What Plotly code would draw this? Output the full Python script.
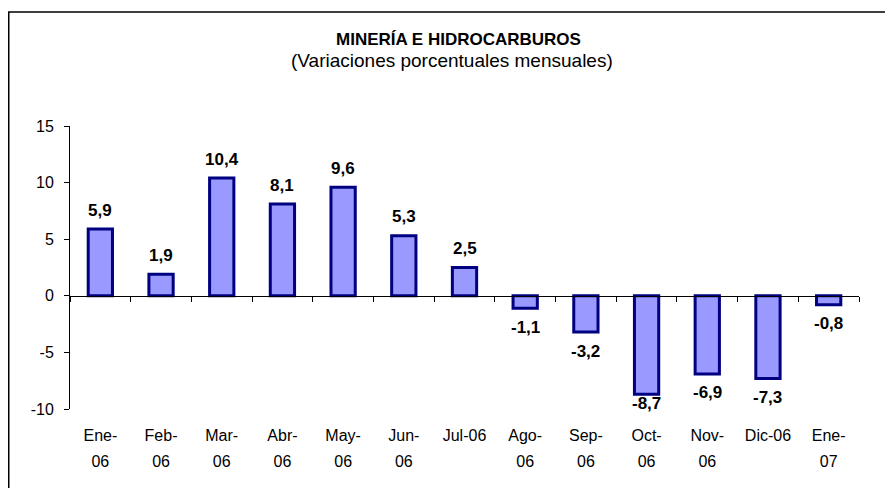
import plotly.graph_objects as go

categories = ["Ene-06", "Feb-06", "Mar-06", "Abr-06", "May-06", "Jun-06", "Jul-06",
              "Ago-06", "Sep-06", "Oct-06", "Nov-06", "Dic-06", "Ene-07"]
values = [5.9, 1.9, 10.4, 8.1, 9.6, 5.3, 2.5, -1.1, -3.2, -8.7, -6.9, -7.3, -0.8]
tick_line1 = ["Ene-", "Feb-", "Mar-", "Abr-", "May-", "Jun-", "Jul-06",
              "Ago-", "Sep-", "Oct-", "Nov-", "Dic-06", "Ene-"]
tick_line2 = ["06", "06", "06", "06", "06", "06", "",
              "06", "06", "06", "06", "", "07"]
y_ticks = [-10, -5, 0, 5, 10, 15]

title = "MINERÍA E HIDROCARBUROS"
subtitle = "(Variaciones porcentuales mensuales)"

FONT = "Liberation Sans, Arial, sans-serif"
# page has an 8px body margin, so the figure origin sits at (8, 8)
W, H = 885, 480
ML, MR, MT, MB = 62, 34, 118, 79
pw, ph = W - ML - MR, H - MT - MB
ymin, ymax = -10, 15
zero_pos = (0 - ymin) / (ymax - ymin)
unit_px = ph / (ymax - ymin)
label_off = 19 / unit_px


def px_to_paper_x(px):
    return (px - ML) / pw


def px_to_paper_y(py):
    return 1 - (py - MT) / ph


fig = go.Figure()
fig.add_trace(go.Bar(
    x=categories, y=values, width=0.4,
    marker=dict(color="#9999FF", line=dict(color="#000080", width=3)),
    showlegend=False, hoverinfo="x+y",
))
# invisible traces that carry the two label axes
for ax in ("x2", "x3"):
    fig.add_trace(go.Scatter(x=categories, y=[None] * len(categories), xaxis=ax,
                             mode="lines", showlegend=False, hoverinfo="skip"))

for c, v in zip(categories, values):
    txt = f"{v:.1f}".replace(".", ",")
    if v >= 0:
        yy = v + label_off
    else:
        yy = max(v - label_off, ymin + 0.45)
    fig.add_annotation(x=c, y=yy, text=f"<b>{txt}</b>", showarrow=False,
                       xref="x", yref="y", yanchor="middle",
                       font=dict(family=FONT, size=17, color="black"))

xr = [-0.5, len(categories) - 0.5]
label_axis = dict(type="category", categoryarray=categories, overlaying="x",
                  range=xr, anchor="y", side="bottom", showline=False, ticks="",
                  tickmode="array", tickvals=categories, showgrid=False, zeroline=False,
                  tickfont=dict(family=FONT, size=16, color="black"))

fig.update_layout(
    width=W, height=H,
    margin=dict(l=ML, r=MR, t=MT, b=MB, autoexpand=False),
    paper_bgcolor="white", plot_bgcolor="white",
    font=dict(family=FONT, size=16, color="black"),
    xaxis=dict(type="category", categoryarray=categories, range=xr,
               anchor="free", position=zero_pos,
               showline=True, linecolor="black", linewidth=1,
               ticks="outside", tickson="boundaries", ticklen=5, tickcolor="black",
               showticklabels=False, showgrid=False, zeroline=False),
    xaxis2=dict(label_axis, ticktext=tick_line1, ticklabelstandoff=15),
    xaxis3=dict(label_axis, ticktext=tick_line2, ticklabelstandoff=41),
    yaxis=dict(range=[ymin, ymax], tickmode="array", tickvals=y_ticks,
               ticktext=[str(t) for t in y_ticks],
               showline=True, linecolor="black", linewidth=1,
               ticks="outside", ticklen=5, tickcolor="black",
               ticklabelstandoff=7,
               showgrid=False, zeroline=False,
               tickfont=dict(family=FONT, size=16, color="black")),
)

fig.add_annotation(text=f"<b>{title}</b>", x=px_to_paper_x(450), y=px_to_paper_y(31),
                   xref="paper", yref="paper", xanchor="center", yanchor="middle",
                   showarrow=False, font=dict(family=FONT, size=17, color="black"))
fig.add_annotation(text=subtitle, x=px_to_paper_x(444), y=px_to_paper_y(53),
                   xref="paper", yref="paper", xanchor="center", yanchor="middle",
                   showarrow=False, font=dict(family=FONT, size=19, color="black"))

# outer chart frame (only its top and left edges fall inside the picture)
fig.add_shape(type="rect", xref="paper", yref="paper",
              x0=px_to_paper_x(0.75), x1=px_to_paper_x(W + 20),
              y0=px_to_paper_y(H + 20), y1=px_to_paper_y(4),
              line=dict(color="black", width=1.5), fillcolor="rgba(0,0,0,0)", layer="below")

fig.write_html("out.html")
